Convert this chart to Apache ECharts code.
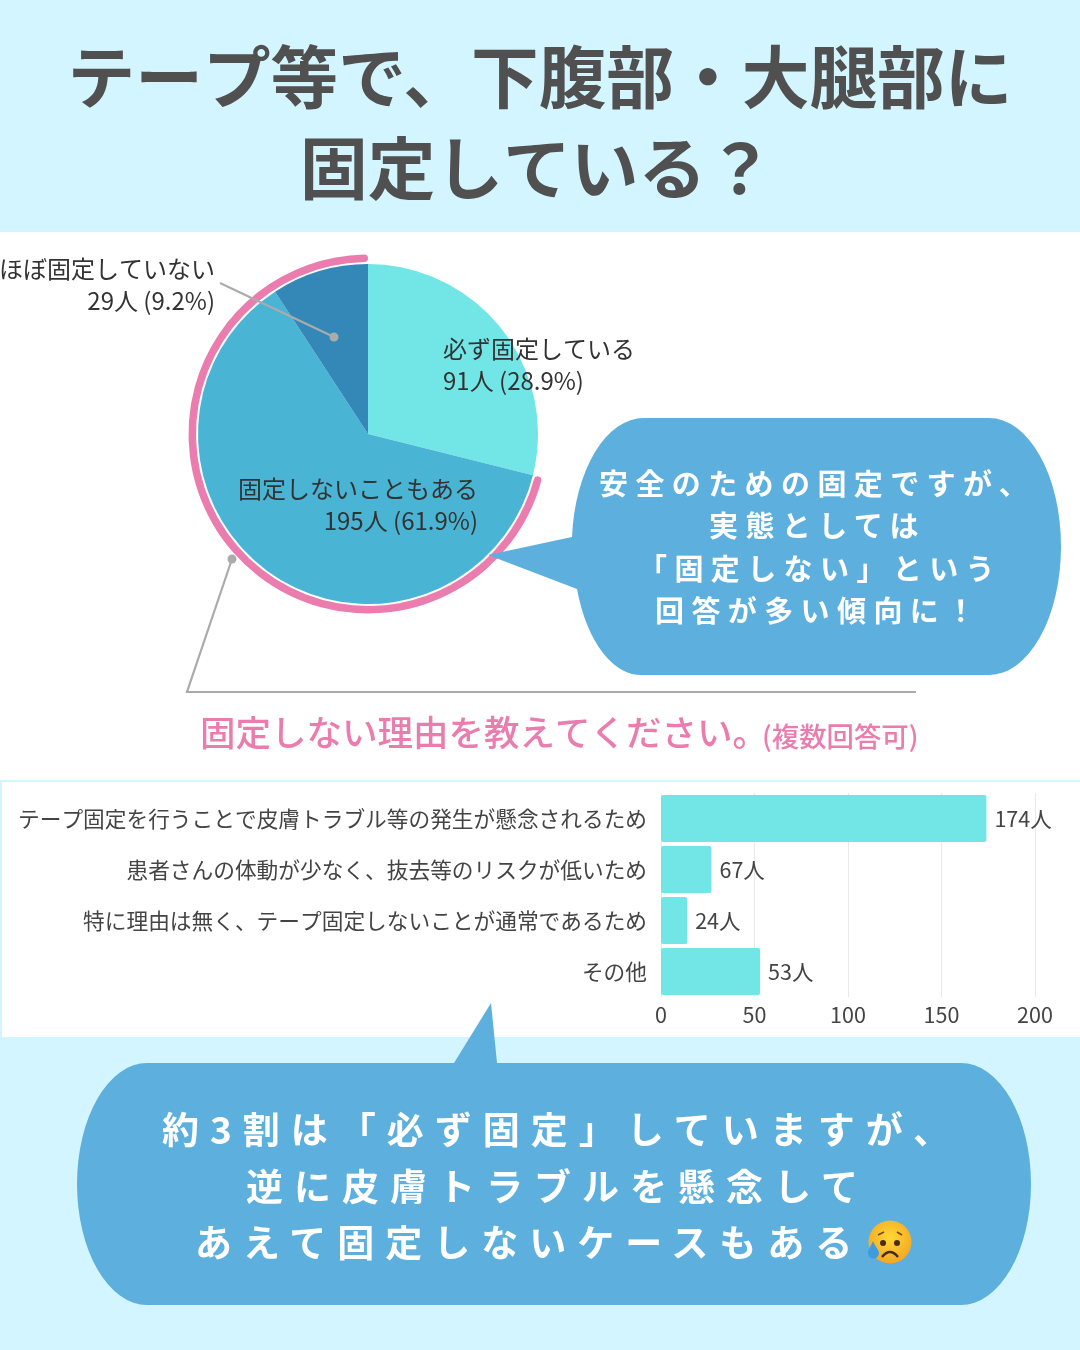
<!DOCTYPE html>
<html lang="ja"><head><meta charset="utf-8">
<script src="https://cdn.jsdelivr.net/npm/echarts@6/dist/echarts.min.js"></script>
<style>
html,body{margin:0;padding:0;background:#d3f5ff}
#c{position:absolute;left:0;top:0;width:1080px;height:1350px}
.t{position:absolute;white-space:nowrap;color:#fff;font-family:"Noto Sans CJK JP";font-weight:700;line-height:1;transform:translateY(-50%)}
</style></head><body>
<div id="c"></div>
<div class="t" style="left:599px;top:482px;font-size:29px;letter-spacing:7.4px">安全のための固定ですが、</div>
<div class="t" style="left:709px;top:524px;font-size:29px;letter-spacing:7.4px">実態としては</div>
<div class="t" style="left:638px;top:567px;font-size:29px;letter-spacing:7.4px">「固定しない」という</div>
<div class="t" style="left:655px;top:609px;font-size:29px;letter-spacing:7.4px">回答が多い傾向に！</div>
<div class="t" style="left:162px;top:1128px;font-size:37px;letter-spacing:11px">約3割は「必ず固定」していますが、</div>
<div class="t" style="left:246px;top:1185px;font-size:37px;letter-spacing:11px">逆に皮膚トラブルを懸念して</div>
<div class="t" style="left:195px;top:1241px;font-size:37px;letter-spacing:11px">あえて固定しないケースもある</div>
<script>
const pieNames = ['必ず固定している', '固定しないこともある', 'ほぼ固定していない'];
const pieValues = [91, 195, 29];
const pieColors = ['#72e6e6', '#4ab4d4', '#3388b8'];
const barCategories = ['テープ固定を行うことで皮膚トラブル等の発生が懸念されるため', '患者さんの体動が少なく、抜去等のリスクが低いため', '特に理由は無く、テープ固定しないことが通常であるため', 'その他'];
// The reference's bars are not all drawn to the length of their printed label.
const barLengths = [174, 27, 14, 53];
const barLabels = [174, 67, 24, 53];
const xTicks = [0, 50, 100, 150, 200];
const titleLines = ['テープ等で、下腹部・大腿部に', '固定している？'];

const FONT = '"Noto Sans CJK JP"';
const BLUE = '#5dafde', PINK = '#ea7cae', GRAY = '#ababab';
const labelSpots = [
  {x: 443, y: 365, align: 'left'},
  {x: 478, y: 505, align: 'right'},
  {x: 215, y: 285, align: 'right'}
];
const reg = (name, d) => echarts.graphic.registerShape(name, echarts.graphic.extendPath(d, {}));
reg('bubbleA', 'M644 418 L989 418 A72 128.5 0 0 1 1061 546.5 A72 128.5 0 0 1 989 675 L644 675 A68 128.5 0 0 1 577 589 L488 555 L572 537 A72 128.5 0 0 1 644 418 Z');
reg('bubbleB', 'M147 1063 L454 1063 L491 1003 L497 1063 L961 1063 A70 121 0 0 1 1031 1184 A70 121 0 0 1 961 1305 L147 1305 A70 121 0 0 1 77 1184 A70 121 0 0 1 147 1063 Z');
reg('frown', 'M882 1257 Q890 1247 898 1257');
reg('tear', 'M873 1241 C870 1248 868 1250 868 1253 A5.5 5.5 0 0 0 879 1253 C879 1250 876 1248 873 1241 Z');

const chart = echarts.init(document.getElementById('c'), null, {renderer: 'canvas', width: 1080, height: 1350});
chart.setOption({
  animation: false,
  backgroundColor: '#d3f5ff',
  textStyle: {fontFamily: FONT},
  grid: {left: 661, width: 374, top: 793, height: 204},
  xAxis: {type: 'value', min: xTicks[0], max: xTicks[xTicks.length - 1], interval: 50,
    axisLine: {show: false}, axisTick: {show: false},
    splitLine: {lineStyle: {color: '#e9e9e9', width: 1}},
    axisLabel: {fontSize: 21.5, color: '#444', margin: 7, fontFamily: FONT}},
  yAxis: {type: 'category', inverse: true, data: barCategories,
    axisLine: {show: false}, axisTick: {show: false},
    axisLabel: {fontSize: 21.7, color: '#444', margin: 14, fontFamily: FONT}},
  series: [
    {type: 'bar', data: barLengths, barWidth: 47, z: 3,
      itemStyle: {color: pieColors[0], borderRadius: 2},
      label: {show: true, position: 'right', distance: 8, fontSize: 21.5, color: '#444', fontFamily: FONT,
        formatter: p => barLabels[p.dataIndex] + '人'}},
    {type: 'pie', center: [368, 434], radius: [0, 170], startAngle: 90, clockwise: true, z: 3,
      data: pieNames.map((n, i) => ({name: n, value: pieValues[i], itemStyle: {color: pieColors[i]}})),
      label: {show: true, position: 'inside', fontSize: 24, lineHeight: 32, color: '#333', fontFamily: FONT,
        formatter: p => p.name + '\n' + p.value + '人 (' + p.percent.toFixed(1) + '%)'},
      labelLine: {show: false},
      labelLayout: p => ({x: labelSpots[p.dataIndex].x, y: labelSpots[p.dataIndex].y, align: labelSpots[p.dataIndex].align, verticalAlign: 'middle'}),
      silent: true},
    {type: 'pie', center: [368, 434], radius: [172, 179.5], startAngle: 90, clockwise: true, z: 2, silent: true,
      label: {show: false}, labelLine: {show: false},
      data: [{value: pieValues[0], itemStyle: {color: 'transparent'}},
             {value: pieValues[1] + pieValues[2], itemStyle: {color: PINK, borderRadius: 4}}]}
  ],
  graphic: [
    {type: 'rect', z: -10, shape: {x: 0, y: 232, width: 1080, height: 548}, style: {fill: '#fff'}},
    {type: 'rect', z: -10, shape: {x: 2, y: 782, width: 1078, height: 255}, style: {fill: '#fff'}},
    {type: 'text', z: 5, x: 540, y: 77, style: {text: titleLines[0], font: '700 67.7px ' + FONT, fill: '#505050', align: 'center', verticalAlign: 'middle'}},
    {type: 'text', z: 5, x: 537, y: 168, style: {text: titleLines[1], font: '700 67.7px ' + FONT, fill: '#505050', align: 'center', verticalAlign: 'middle'}},
    {type: 'polyline', z: 6, shape: {points: [[232, 559], [187, 692], [916, 692]]}, style: {stroke: GRAY, lineWidth: 2.2, fill: 'none'}},
    {type: 'circle', z: 6, shape: {cx: 232, cy: 559, r: 4.5}, style: {fill: GRAY}},
    {type: 'polyline', z: 6, shape: {points: [[220, 283], [334, 337]]}, style: {stroke: GRAY, lineWidth: 2.2, fill: 'none'}},
    {type: 'circle', z: 6, shape: {cx: 334, cy: 337, r: 4.5}, style: {fill: GRAY}},
    {type: 'bubbleA', z: 7, style: {fill: BLUE}},
    {type: 'bubbleB', z: 7, style: {fill: BLUE}},
    {type: 'text', z: 6, x: 200, y: 733, style: {text: '固定しない理由を教えてください。', font: '500 35.5px ' + FONT, fill: PINK, align: 'left', verticalAlign: 'middle'}},
    {type: 'text', z: 6, x: 762, y: 737, style: {text: '(複数回答可)', font: '500 27.4px ' + FONT, fill: PINK, align: 'left', verticalAlign: 'middle'}},
    {type: 'circle', z: 8, shape: {cx: 890, cy: 1242, r: 21.5}, style: {fill: new echarts.graphic.RadialGradient(0.5, 0.4, 0.6, [{offset: 0, color: '#fdd835'}, {offset: 1, color: '#f5a623'}])}},
    {type: 'circle', z: 9, shape: {cx: 883, cy: 1243, r: 3}, style: {fill: '#4a2c16'}},
    {type: 'circle', z: 9, shape: {cx: 897, cy: 1243, r: 3}, style: {fill: '#4a2c16'}},
    {type: 'polyline', z: 9, shape: {points: [[878, 1235], [884, 1232]]}, style: {stroke: '#7a4a1a', lineWidth: 1.6, fill: 'none'}},
    {type: 'polyline', z: 9, shape: {points: [[902, 1235], [897, 1232]]}, style: {stroke: '#7a4a1a', lineWidth: 1.6, fill: 'none'}},
    {type: 'frown', z: 9, style: {stroke: '#4a2c16', lineWidth: 2.4, fill: 'none'}},
    {type: 'tear', z: 10, style: {fill: '#3d9be0'}}
  ]
});
</script>
</body></html>
